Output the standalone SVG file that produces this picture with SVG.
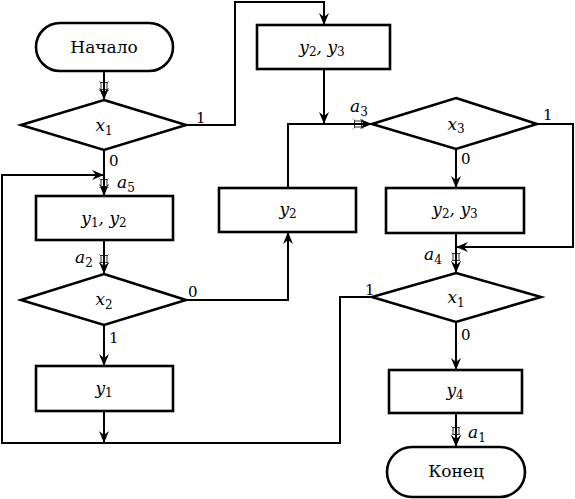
<svg xmlns="http://www.w3.org/2000/svg" width="575" height="499" viewBox="0 0 575 499">
<style>
.b{fill:#fff;stroke:#000;stroke-width:2.6}
.c{fill:none;stroke:#000;stroke-width:2}
text{font-family:'DejaVu Serif','Liberation Serif',serif;fill:#000}
.t{font-size:17px;text-anchor:middle}
.v{font-size:17px;font-style:italic}
.vc{font-size:17px;font-style:italic;text-anchor:middle}
.s{font-size:12px;font-style:normal}
.n{font-size:15px}
.m{fill:#fff;stroke:#333;stroke-width:1}
</style>
<defs>
<marker id="ar" viewBox="0 0 12 10" refX="12" refY="5" markerWidth="12" markerHeight="10" markerUnits="userSpaceOnUse" orient="auto">
<path d="M0,0 L12,5 L0,10 L4,5 z" fill="#000"/>
</marker>
<symbol id="mk" viewBox="-5 -5 10 10" overflow="visible">
<rect x="-3" y="-3.5" width="6" height="7" class="m"/>
<path d="M-4.5,-4.5 L-3,-3 M4.5,-4.5 L3,-3 M-4.5,4.5 L-3,3 M4.5,4.5 L3,3" stroke="#333" stroke-width="1"/>
<line x1="0" y1="-5" x2="0" y2="5" stroke="#000" stroke-width="2"/>
</symbol>
</defs>

<g id="connectors">
<line class="c" x1="104" y1="71" x2="104" y2="100" marker-end="url(#ar)"/>
<polyline class="c" points="186,125 235,125 235,2 324,2 324,25" marker-end="url(#ar)"/>
<line class="c" x1="104" y1="150" x2="104" y2="196" marker-end="url(#ar)"/>
<polyline class="c" points="104,443 2,443 2,175 104,175" marker-end="url(#ar)"/>
<line class="c" x1="104" y1="240" x2="104" y2="274" marker-end="url(#ar)"/>
<line class="c" x1="104" y1="325" x2="104" y2="366" marker-end="url(#ar)"/>
<line class="c" x1="104" y1="411" x2="104" y2="443" marker-end="url(#ar)"/>
<polyline class="c" points="186,300 288,300 288,232" marker-end="url(#ar)"/>
<line class="c" x1="324" y1="69" x2="324" y2="124" marker-end="url(#ar)"/>
<polyline class="c" points="288,188 288,124 372,124" marker-end="url(#ar)"/>
<line class="c" x1="456" y1="149" x2="456" y2="188" marker-end="url(#ar)"/>
<polyline class="c" points="537,124 573,124 573,247 456,247" marker-end="url(#ar)"/>
<line class="c" x1="456" y1="233" x2="456" y2="273" marker-end="url(#ar)"/>
<polyline class="c" points="372,297 340,297 340,443 104,443"/>
<line class="c" x1="456" y1="322" x2="456" y2="370" marker-end="url(#ar)"/>
<line class="c" x1="456" y1="413" x2="456" y2="447" marker-end="url(#ar)"/>
<use href="#mk" x="99" y="81" width="10" height="10"/>
<use href="#mk" x="99" y="178" width="10" height="10"/>
<use href="#mk" x="99" y="254" width="10" height="10"/>
<use href="#mk" x="451" y="252" width="10" height="10"/>
<use href="#mk" x="451" y="426" width="10" height="10"/>
<use href="#mk" x="353" y="119" width="10" height="10" transform="rotate(90 358 124)"/>
<text class="n" x="196" y="123">1</text>
<text class="n" x="109" y="166">0</text>
<text class="v" x="117" y="188">a<tspan class="s" dy="4">5</tspan></text>
<text class="v" x="75" y="263">a<tspan class="s" dy="4">2</tspan></text>
<text class="n" x="188" y="297">0</text>
<text class="n" x="109" y="343">1</text>
<text class="v" x="350" y="112">a<tspan class="s" dy="4">3</tspan></text>
<text class="n" x="543" y="120">1</text>
<text class="n" x="461" y="164">0</text>
<text class="v" x="424" y="260">a<tspan class="s" dy="4">4</tspan></text>
<text class="n" x="365" y="295">1</text>
<text class="n" x="461" y="340">0</text>
<text class="v" x="468" y="438">a<tspan class="s" dy="4">1</tspan></text>
</g>

<g id="start"><rect class="b" x="36" y="23" width="137" height="48" rx="24"/><text class="t" x="104" y="53">Начало</text></g>
<g id="cond_x1_top"><polygon class="b" points="104,100 186,125 104,150 21,125"/><text class="vc" x="104" y="131">x<tspan class="s" dy="4">1</tspan></text></g>
<g id="op_y2y3_top"><rect class="b" x="257" y="25" width="133" height="44"/><text class="vc" x="322" y="53">y<tspan class="s" dy="3">2</tspan><tspan dy="-3">, y</tspan><tspan class="s" dy="3">3</tspan></text></g>
<g id="op_y1y2"><rect class="b" x="36" y="196" width="137" height="44"/><text class="vc" x="104" y="224">y<tspan class="s" dy="3">1</tspan><tspan dy="-3">,  y</tspan><tspan class="s" dy="3">2</tspan></text></g>
<g id="op_y2_mid"><rect class="b" x="219" y="188" width="137" height="44"/><text class="vc" x="288" y="215">y<tspan class="s" dy="3">2</tspan></text></g>
<g id="cond_x3"><polygon class="b" points="456,98 537,124 456,149 372,124"/><text class="vc" x="456" y="130">x<tspan class="s" dy="3">3</tspan></text></g>
<g id="op_y2y3_right"><rect class="b" x="386" y="188" width="138" height="45"/><text class="vc" x="455" y="215">y<tspan class="s" dy="3">2</tspan><tspan dy="-3">, y</tspan><tspan class="s" dy="3">3</tspan></text></g>
<g id="cond_x2"><polygon class="b" points="104,274 186,300 104,325 21,300"/><text class="vc" x="104" y="305">x<tspan class="s" dy="4">2</tspan></text></g>
<g id="cond_x1_bottom"><polygon class="b" points="456,273 541,297 456,322 372,297"/><text class="vc" x="456" y="303">x<tspan class="s" dy="4">1</tspan></text></g>
<g id="op_y1"><rect class="b" x="36" y="366" width="137" height="45"/><text class="vc" x="104" y="394">y<tspan class="s" dy="3">1</tspan></text></g>
<g id="op_y4"><rect class="b" x="389" y="370" width="133" height="43"/><text class="vc" x="455" y="396">y<tspan class="s" dy="3">4</tspan></text></g>
<g id="end"><rect class="b" x="387" y="447" width="138" height="50" rx="25"/><text class="t" x="456" y="477">Конец</text></g>
</svg>
